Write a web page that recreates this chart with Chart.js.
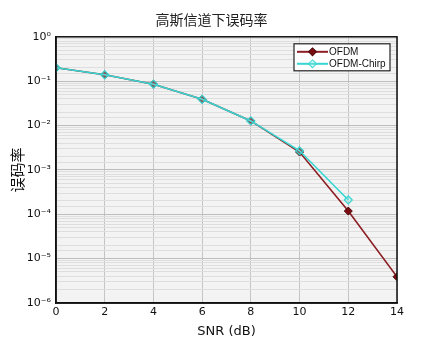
<!DOCTYPE html>
<html>
<head>
<meta charset="utf-8">
<script src="https://cdn.jsdelivr.net/npm/chart.js@4"></script>
<style>
  html, body { margin: 0; padding: 0; background: #fff; }
  #wrap { width: 423px; height: 354px; }
</style>
</head>
<body>
<div id="wrap"><canvas id="berChart" width="423" height="354"></canvas></div>
<script>
const snr = [0, 2, 4, 6, 8, 10, 12, 14];
const berOfdm = [0.2, 0.139, 0.0855, 0.039, 0.0127, 0.00253, 0.000118, 0.0000039];
const berChirp = [0.2, 0.139, 0.0855, 0.039, 0.0127, 0.0027, 0.00021, null];
const seriesNames = ["OFDM", "OFDM-Chirp"];
const supers = { "0": "⁰", "1": "¹", "2": "²", "3": "³", "4": "⁴", "5": "⁵", "6": "⁶", "-": "⁻" };

const FONT = "'DejaVu Sans', 'Noto Sans CJK SC', sans-serif";
const LEG_FONT = "'Liberation Sans', Arial, sans-serif";
const CJK = "'Noto Sans CJK SC', sans-serif";

function toPoints(vals) {
  return snr.map((x, i) => ({ x: x, y: vals[i] })).filter(p => p.y !== null);
}

function isDecade(v) {
  const l = Math.log10(v);
  return Math.abs(l - Math.round(l)) < 1e-9;
}

/* plot background + full frame + legend box */
const frame = {
  id: "frame",
  beforeDraw(chart) {
    const a = chart.chartArea, c = chart.ctx;
    c.save();
    c.fillStyle = "#f3f3f3";
    c.fillRect(a.left, a.top, a.right - a.left, a.bottom - a.top);
    c.restore();
  },
  afterDraw(chart) {
    const a = chart.chartArea, c = chart.ctx;
    c.save();
    c.strokeStyle = "#111";
    c.lineWidth = 1.5;
    c.strokeRect(a.left, a.top, a.right - a.left, a.bottom - a.top);

    const bx = a.right - 103, by = a.top + 7, bw = 96, bh = 27;
    c.fillStyle = "#fff";
    c.fillRect(bx, by, bw, bh);
    c.strokeStyle = "#222";
    c.lineWidth = 1.2;
    c.strokeRect(bx, by, bw, bh);
    chart.data.datasets.forEach((ds, i) => {
      const y = by + 8 + i * 12;
      c.strokeStyle = ds.borderColor;
      c.lineWidth = 2;
      c.beginPath();
      c.moveTo(bx + 3, y);
      c.lineTo(bx + 34, y);
      c.stroke();
      c.save();
      c.translate(bx + 18.5, y);
      c.rotate(Math.PI / 4);
      c.fillStyle = ds.pointBackgroundColor;
      c.strokeStyle = ds.pointBorderColor;
      c.lineWidth = 1;
      c.fillRect(-2.8, -2.8, 5.6, 5.6);
      c.strokeRect(-2.8, -2.8, 5.6, 5.6);
      c.restore();
      c.fillStyle = "#111";
      c.font = "10px " + LEG_FONT;
      c.textBaseline = "middle";
      c.fillText(ds.label, bx + 35, y + 0.5);
    });
    c.restore();
  }
};

new Chart(document.getElementById("berChart"), {
  type: "line",
  data: {
    datasets: [
      {
        label: seriesNames[0],
        data: toPoints(berOfdm),
        borderColor: "#8b1e24",
        borderWidth: 1.6,
        pointStyle: "rectRot",
        pointRadius: 4,
        pointBackgroundColor: "#7a0d12",
        pointBorderColor: "#4a0a0a",
        pointBorderWidth: 1,
        order: 2
      },
      {
        label: seriesNames[1],
        data: toPoints(berChirp),
        borderColor: "#36d6d2",
        borderWidth: 1.6,
        pointStyle: "rectRot",
        pointRadius: 4,
        pointBackgroundColor: "rgba(150,235,232,0.35)",
        pointBorderColor: "#36d6d2",
        pointBorderWidth: 1.2,
        order: 1
      }
    ]
  },
  options: {
    responsive: false,
    animation: false,
    layout: { padding: 0 },
    plugins: {
      legend: { display: false },
      tooltip: { enabled: false },
      title: {
        display: true,
        text: "高斯信道下误码率",
        color: "#222",
        font: { family: CJK, size: 14, weight: "normal" },
        padding: { top: 11, bottom: 9 }
      }
    },
    scales: {
      x: {
        type: "linear",
        min: 0,
        max: 14,
        ticks: {
          stepSize: 2,
          color: "#111",
          padding: 3,
          font: { family: FONT, size: 11 }
        },
        grid: { color: "#c4c4c4", lineWidth: 1, drawTicks: false },
        border: { color: "#111", width: 1.5 },
        title: {
          display: true,
          text: "SNR (dB)",
          color: "#111",
          font: { family: FONT, size: 13 },
          padding: { top: 0, bottom: 15 }
        },
        afterFit(scale) { scale.height = 51; }
      },
      y: {
        type: "logarithmic",
        min: 1e-6,
        max: 1,
        ticks: {
          autoSkip: false,
          color: "#111",
          padding: 5,
          font: { family: FONT, size: 11 },
          callback(v) {
            if (!isDecade(v)) return "";
            const e = String(Math.round(Math.log10(v)));
            return "10" + e.split("").map(ch => supers[ch]).join("");
          }
        },
        grid: {
          drawTicks: false,
          color: ctx => (ctx.tick && isDecade(ctx.tick.value)) ? "#bdbdbd" : "#dedede",
          lineWidth: 1
        },
        border: { color: "#111", width: 1.5 },
        title: {
          display: true,
          text: "误码率",
          color: "#111",
          font: { family: CJK, size: 15 },
          padding: { top: 8, bottom: 0 }
        },
        afterFit(scale) { scale.width = 56; }
      },
      yRight: {
        type: "linear",
        position: "right",
        ticks: { display: false },
        grid: { display: false, drawTicks: false },
        border: { display: false },
        afterFit(scale) { scale.width = 26; }
      }
    }
  },
  plugins: [frame]
});
</script>
</body>
</html>
